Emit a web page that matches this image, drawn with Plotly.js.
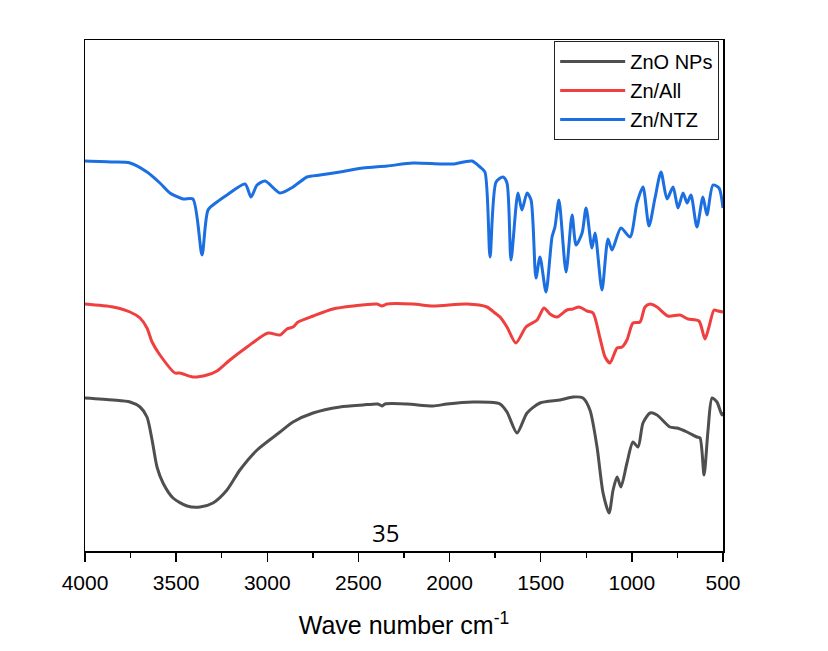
<!DOCTYPE html>
<html>
<head>
<meta charset="utf-8">
<script src="https://cdn.plot.ly/plotly-3.0.1.min.js"></script>
<style>html,body{margin:0;padding:0;background:#fff;}#chart{width:828px;height:651px;}</style>
</head>
<body>
<div id="chart"></div>
<script>
// ZnO NPs (black)
const wnZnO = [4000,3846,3753,3698,3660,3632,3605,3572,3517,3440,3369,3298,3221,3150,3056,2930,2859,2749,2601,2475,2393,2371,2354,2234,2091,2014,1871,1740,1723,1685,1630,1575,1504,1394,1323,1268,1230,1191,1158,1125,1103,1081,1060,1027,994,966,939,900,862,791,752,697,643,626,604,582,560,533,506,500];
const tZnO  = [153,151,149,144,134,111,84,68,53,45,44,48,61,81,101,119,129,138,144,146,147,145,147,147,145,147,149,148,147,139,118,138,148,151,154,153,141,104,58,38,61,74,64,88,109,104,128,138,136,124,123,119,114,113,76,121,153,149,136,139];

// Zn/All (red)
const wnAll = [4000,3846,3753,3698,3660,3632,3589,3506,3479,3408,3331,3276,3205,3111,2996,2930,2892,2859,2831,2749,2640,2530,2398,2371,2343,2201,2091,1904,1795,1751,1723,1685,1636,1581,1520,1482,1449,1411,1356,1323,1290,1246,1213,1175,1147,1120,1081,1054,1027,994,955,928,900,862,802,736,692,632,599,577,549,527,500];
const tAll  = [247,244,239,233,223,209,196,178,178,174,176,180,191,204,218,216,222,224,229,235,242,245,247,245,247,247,245,247,244,238,234,224,208,224,231,243,237,234,241,242,244,240,238,213,194,188,203,204,211,228,229,244,247,244,235,236,232,230,212,224,241,240,239];

// Zn/NTZ (blue)
const wnNTZ = [4000,3846,3753,3660,3589,3534,3462,3408,3358,3325,3276,3221,3122,3089,3056,3012,2930,2859,2782,2711,2601,2475,2343,2201,2052,1981,1877,1833,1806,1778,1745,1707,1685,1663,1625,1603,1575,1553,1526,1504,1471,1438,1422,1400,1361,1328,1306,1273,1251,1219,1202,1164,1131,1109,1060,1010,972,939,906,873,840,807,774,747,719,697,676,643,610,588,555,522,500];
const tNTZ  = [390,389,388,379,368,358,352,352,296,341,349,356,367,354,366,370,358,364,374,376,379,383,385,388,387,387,390,384,379,294,369,374,368,291,358,341,358,351,273,294,259,314,324,351,279,336,306,318,343,303,318,261,312,301,323,314,348,364,325,353,379,352,364,343,358,348,356,324,354,336,366,363,343];

const xTicks = [4000,3500,3000,2500,2000,1500,1000,500];
const seriesNames = ['ZnO NPs','Zn/All','Zn/NTZ'];

const colors = ['#4f4f4f','#ef3f3f','#1b6fe0'];
const line = c => ({color:c, width:3, shape:'spline', smoothing:0.7});

const traces = [
  {x:wnZnO, y:tZnO, name:seriesNames[0], mode:'lines', line:line(colors[0])},
  {x:wnAll, y:tAll, name:seriesNames[1], mode:'lines', line:line(colors[1])},
  {x:wnNTZ, y:tNTZ, name:seriesNames[2], mode:'lines', line:line(colors[2])}
];

const layout = {
  width:828, height:651,
  margin:{l:85, r:105, t:40, b:100},
  paper_bgcolor:'#fff', plot_bgcolor:'#fff',
  font:{family:'Arial, "Liberation Sans", sans-serif', color:'#000'},
  showlegend:true,
  legend:{x:0.994, y:0.998, xanchor:'right', yanchor:'top',
    bgcolor:'#fff', bordercolor:'#222', borderwidth:1,
    font:{size:20, color:'#000'}, itemwidth:65, tracegroupgap:0},
  xaxis:{
    range:[4000,500], tickvals:xTicks, ticktext:xTicks.map(String),
    ticks:'outside', ticklen:9, tickwidth:1.5, tickcolor:'#000',
    minor:{dtick:250, ticks:'outside', ticklen:5, tickwidth:1.5, tickcolor:'#000', showgrid:false},
    showline:true, linecolor:'#000', linewidth:1.5, mirror:true,
    showgrid:false, zeroline:false,
    tickfont:{size:21, color:'#000'}, ticklabelstandoff:3,
    title:{text:'Wave number cm<sup>-1</sup>', font:{size:25, color:'#000'}, standoff:24}
  },
  yaxis:{
    range:[0,511], showticklabels:false, ticks:'',
    showline:true, linecolor:'#000', linewidth:1.5, mirror:true,
    showgrid:false, zeroline:false
  },
  annotations:[{x:2354, y:19, xref:'x', yref:'y', text:'35', showarrow:false,
    font:{family:'"Open Sans", "Noto Sans", sans-serif', size:24, color:'#000'}}]
};

Plotly.newPlot('chart', traces, layout, {displayModeBar:false, staticPlot:true});
</script>
</body>
</html>
